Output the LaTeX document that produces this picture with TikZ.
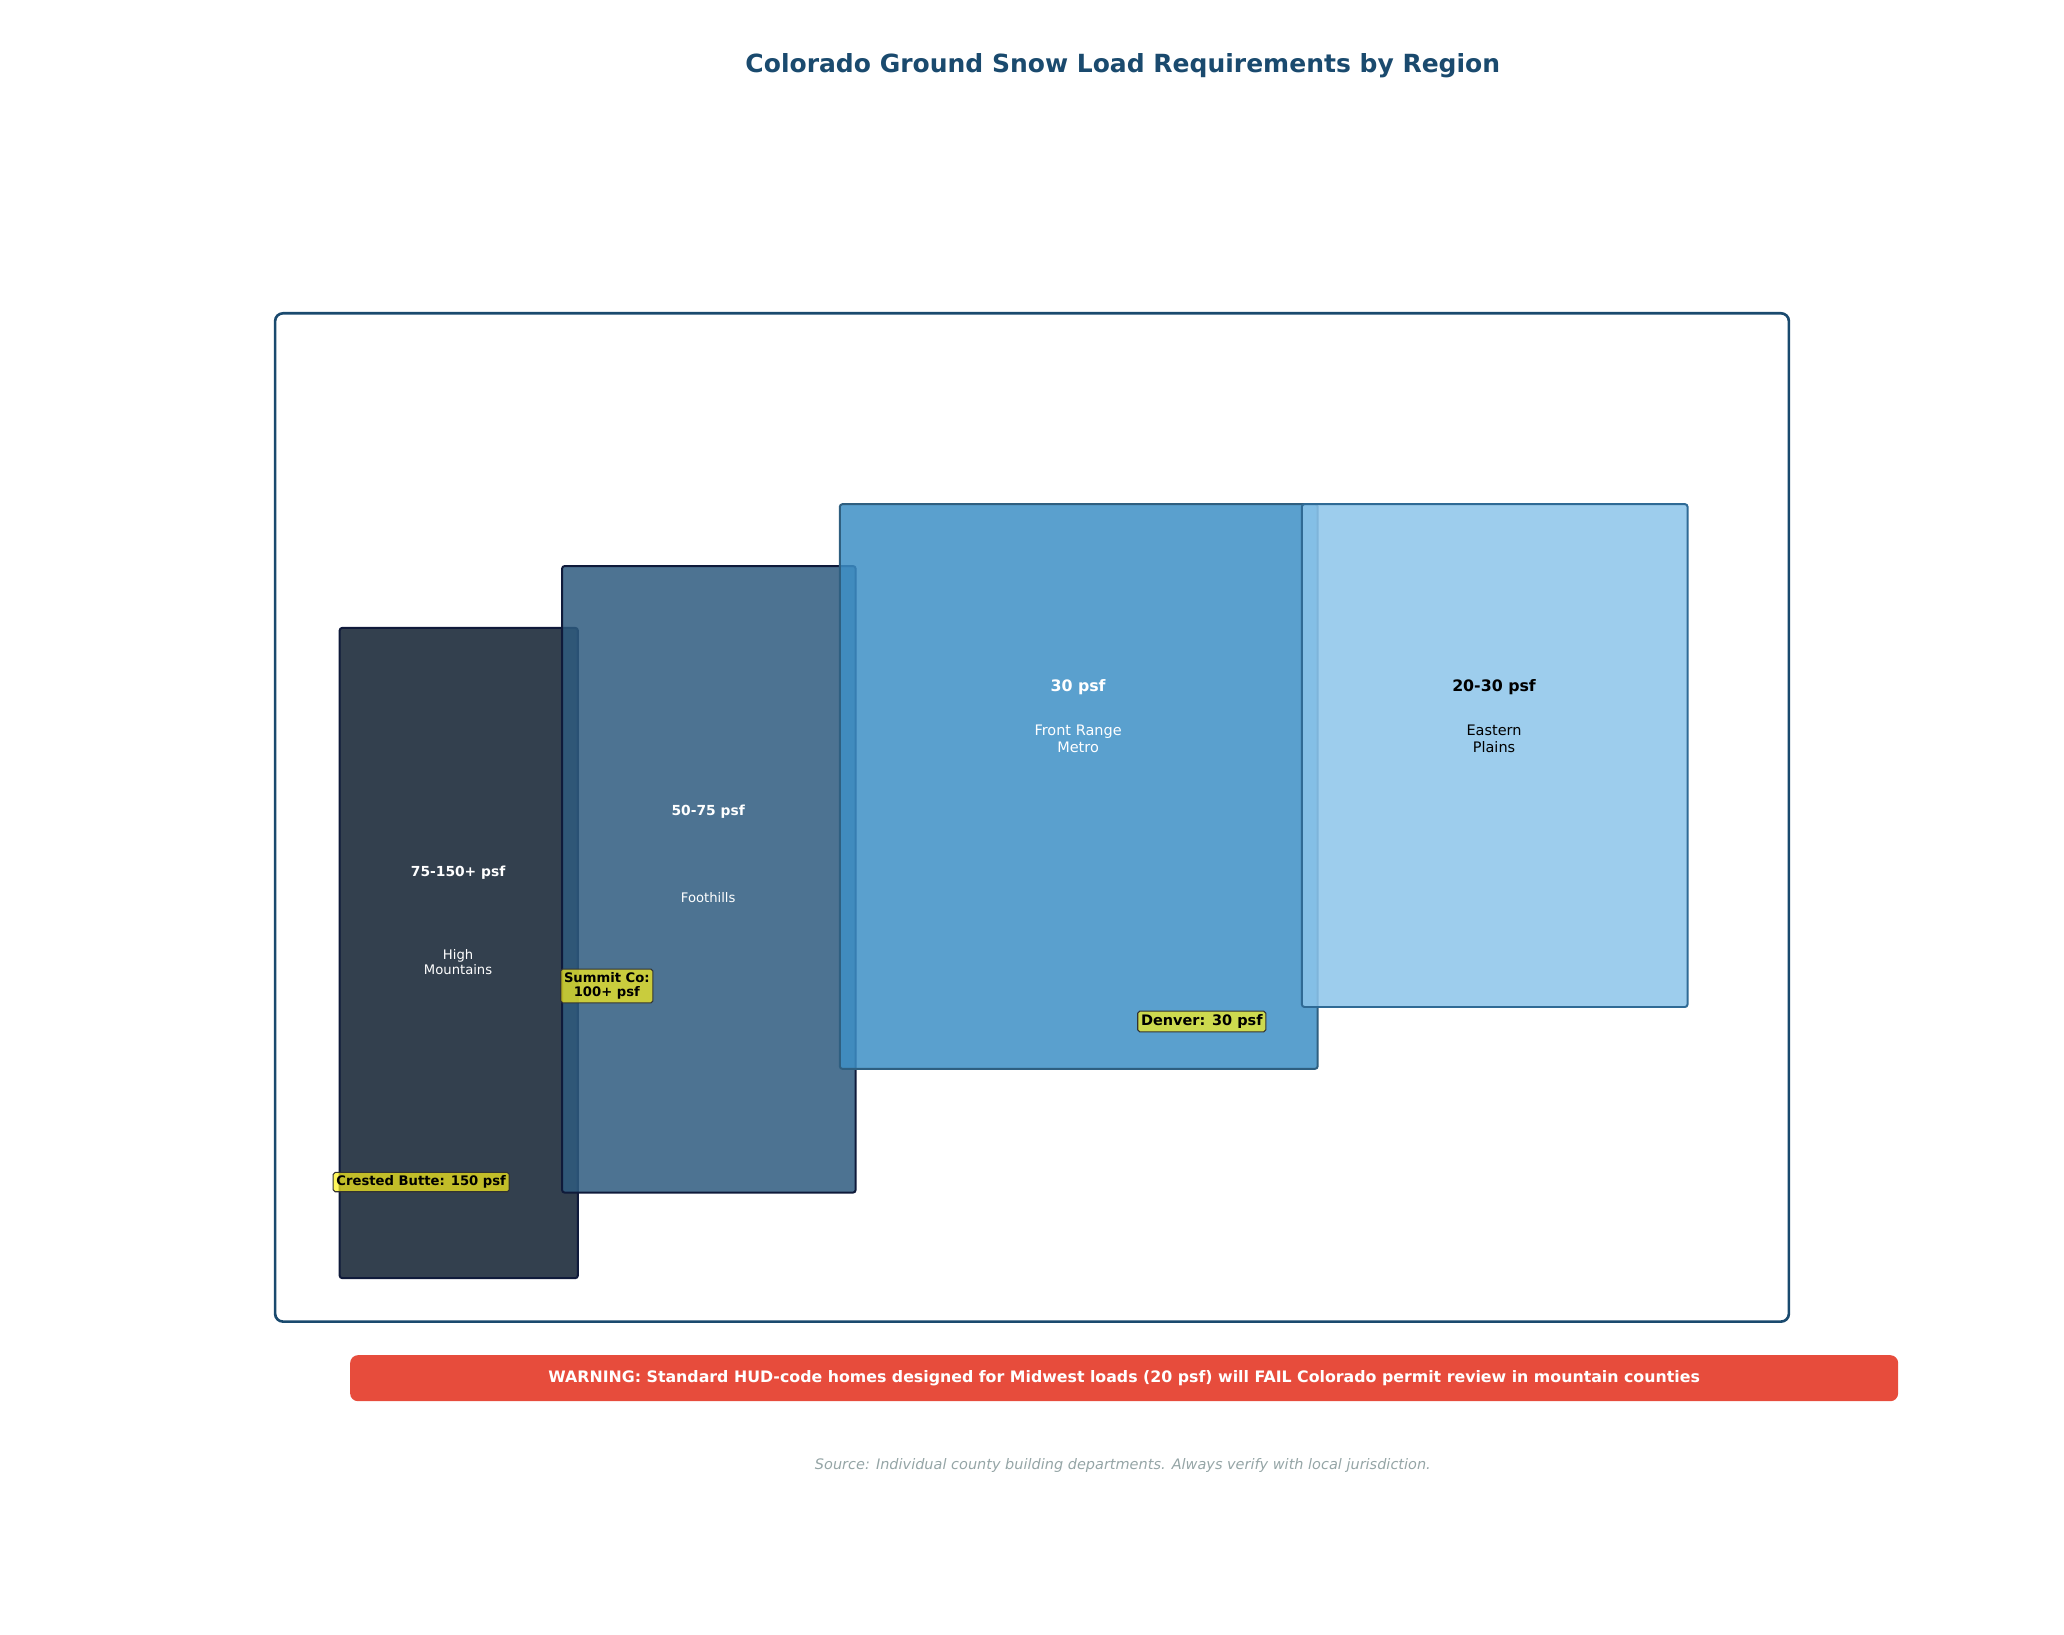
\documentclass[tikz,border=0pt]{standalone}
\usepackage{fontspec}
\setmainfont{DejaVu Sans}
\definecolor{navy}{HTML}{1A4A6E}
\definecolor{bdA}{HTML}{0F1A3A}
\definecolor{fA}{HTML}{0F1E2F}
\definecolor{fB}{HTML}{2E5B7F}
\definecolor{bdC}{HTML}{2F5F80}
\definecolor{fC}{HTML}{3D8FC6}
\definecolor{bdD}{HTML}{2F6A95}
\definecolor{fD}{HTML}{8CC4EA}
\definecolor{warnred}{HTML}{E74C3C}
\definecolor{srcgray}{HTML}{95A5A6}
\begin{document}
\begin{tikzpicture}[x=1pt,y=-1pt,
  region/.style={rounded corners=2pt,line width=1.5pt,fill opacity=0.85},
  note/.style={draw=black!80,rounded corners=1.5pt,fill=yellow!90!white,fill opacity=0.7,text opacity=1,font=\bfseries\fontsize{10}{11}\selectfont,align=center,inner sep=2.5pt,line width=0.8pt},
  small/.style={font=\fontsize{10}{11}\selectfont,align=center}]
\useasboundingbox (0,0) rectangle (1568,1242);
\node[font=\bfseries\fontsize{19}{22}\selectfont,text=navy] (title) at (853,50) {Colorado Ground Snow Load Requirements by Region};
\draw[navy,line width=2pt,rounded corners=6pt] (209,238) rectangle (1359,1004);
\draw[region,draw=bdA,fill=fA] (258,477) rectangle (439,971);
\draw[region,draw=bdA,fill=fB] (427,430) rectangle (650,906);
\draw[region,draw=bdC,fill=fC] (638,383) rectangle (1001,812);
\draw[region,draw=bdD,fill=fD] (989,383) rectangle (1282,765);
\node[text=white,font=\bfseries\fontsize{10.5}{12}\selectfont] (hm) at (348,663) {75-150+ psf};
\node[small,text=white] (hml) at (348,731) {High\\Mountains};
\node[text=white,font=\bfseries\fontsize{10.5}{12}\selectfont] (fh) at (538,617) {50-75 psf};
\node[small,text=white] (fhl) at (538,682) {Foothills};
\node[text=white,font=\bfseries\fontsize{12}{13}\selectfont] (fr) at (819,522) {30 psf};
\node[small,text=white,font=\fontsize{11}{13}\selectfont] (frl) at (819,561) {Front Range\\Metro};
\node[font=\bfseries\fontsize{12}{13}\selectfont] (ep) at (1135,522) {20-30 psf};
\node[small,font=\fontsize{11}{13}\selectfont] (epl) at (1135,561) {Eastern\\Plains};
\node[note] (cb) at (320,898) {Crested Butte: 150 psf};
\node[note] (sc) at (461,749) {Summit Co:\\100+ psf};
\node[note,font=\bfseries\fontsize{11}{12}\selectfont] (dv) at (913,776) {Denver: 30 psf};
\node[fill=warnred,rounded corners=6pt,text=white,font=\bfseries\fontsize{12}{14}\selectfont,minimum width=1176pt,minimum height=35pt] (warn) at (854,1047) {WARNING: Standard HUD-code homes designed for Midwest loads (20 psf) will FAIL Colorado permit review in mountain counties};
\node[text=srcgray,font=\itshape\fontsize{11}{13}\selectfont] (src) at (853,1113) {Source: Individual county building departments. Always verify with local jurisdiction.};
\end{tikzpicture}
\end{document}
